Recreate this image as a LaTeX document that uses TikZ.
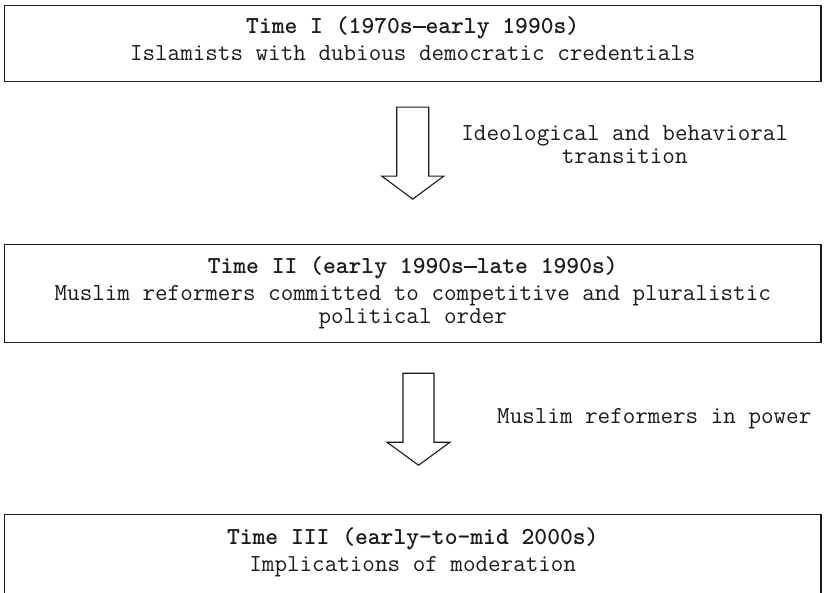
\documentclass[tikz,border=0pt]{standalone}
\usepackage{fontspec}
\usetikzlibrary{positioning, calc}
\definecolor{inkline}{HTML}{1A1A1A}
\tikzset{
  periodbox/.style={draw=inkline, line width=1.1pt, minimum width=816.5pt, inner xsep=0pt, inner ysep=0pt,
    align=center, anchor=north, text=inkline, font=\ttfamily\fontsize{24.4}{23}\selectfont},
  note/.style={align=center, inner sep=0pt, text=inkline, font=\ttfamily\fontsize{24.4}{23}\selectfont},
  blockarrow/.style={draw=inkline, line width=1.1pt, line join=miter, fill=white}
}
\newcommand{\topstrut}[1]{\rule{0pt}{#1}}
\newcommand{\botstrut}[1]{\rule[-#1]{0pt}{#1}}
\newcommand{\longdash}{\rule[0.22em]{0.525em}{0.08em}}

\begin{document}
\begin{tikzpicture}[x=1pt, y=-1pt]
\useasboundingbox (0,0) rectangle (824,592);
\node[periodbox] (boxA) at (412.75,5)
  {\topstrut{27.5pt}\textbf{Time I (1970s\longdash early 1990s)}\\[4pt]Islamists with dubious democratic credentials\botstrut{21.2pt}};
\node[periodbox, below=162.3pt of boxA] (boxB)
  {\topstrut{29pt}\textbf{Time II (early 1990s\longdash late 1990s)}\\[4pt]Muslim reformers committed to competitive and pluralistic\\political order\botstrut{19pt}};
\node[periodbox, below=171pt of boxB] (boxC)
  {\topstrut{30pt}\textbf{Time III (early-to-mid 2000s)}\\[4pt]Implications of moderation\botstrut{25pt}};
% transitions
\coordinate[below=25.3pt of boxA] (tailA);
\coordinate[below=30pt of boxB, xshift=5.75pt] (tailB);
\draw[blockarrow] (tailA) -- ++(16,0) -- ++(0,69) -- ++(15,0) -- ++(-31,23) -- ++(-31,-23) -- ++(15,0) -- ++(0,-69) -- cycle;
\draw[blockarrow] (tailB) -- ++(15.5,0) -- ++(0,69) -- ++(16,0) -- ++(-31.5,23) -- ++(-31.5,-23) -- ++(16,0) -- ++(0,-69) -- cycle;
\node[note] (noteA) at ($(tailA)+(212,37.5)$) {Ideological and behavioral\\transition};
\node[note, anchor=west] (noteB) at ($(tailB)+(78.5,45)$) {Muslim reformers in power};
\end{tikzpicture}
\end{document}
